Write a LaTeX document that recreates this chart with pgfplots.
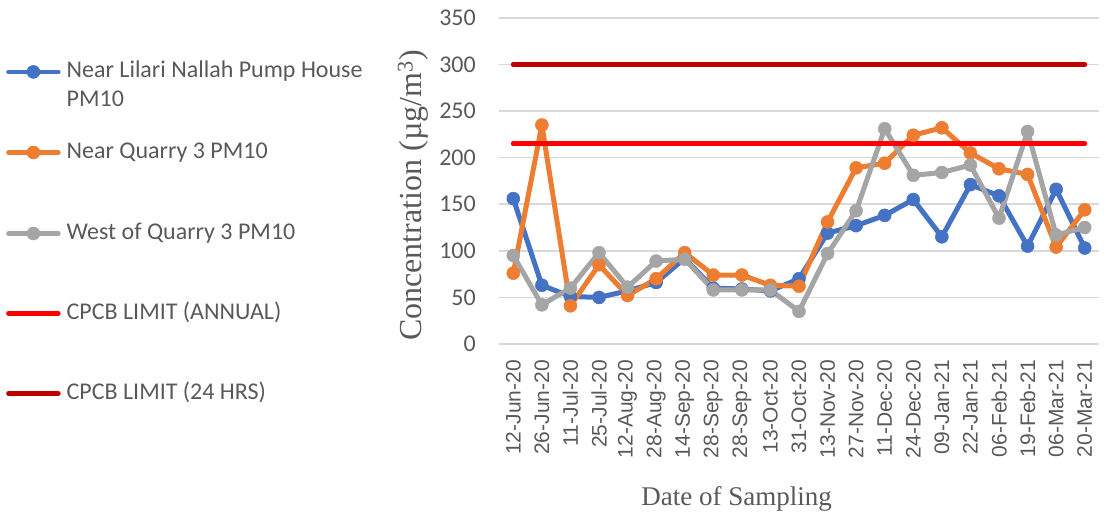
\documentclass[border=0pt]{standalone}
\usepackage{pgfplots}
\usepackage{pgfplotstable}
\pgfplotsset{compat=1.18}
\usepackage{fontspec}
\setmainfont{Liberation Serif}
\newfontfamily\carlito{Carlito}
\newfontfamily\arialf{Liberation Sans}
\definecolor{cblue}{HTML}{4472C4}
\definecolor{corange}{HTML}{ED7D31}
\definecolor{cgray}{HTML}{A5A5A5}
\definecolor{cred}{HTML}{FF0000}
\definecolor{cdred}{HTML}{C00000}
\definecolor{ctext}{HTML}{595959}
\definecolor{cgrid}{HTML}{D9D9D9}

\pgfplotstableread{
x b o g
0 156 76 95
1 63 235 42
2 51 41 60
3 50 85 98
4 57 52 61
5 66 70 89
6 92 98 91
7 60 74 58
8 59 74 58
9 57 63 58
10 70 62 35
11 119 131 97
12 127 189 143
13 138 194 231
14 155 224 181
15 115 232 184
16 171 205 192
17 159 188 135
18 105 182 228
19 166 104 117
20 103 144 125
}\data

\begin{document}
\begin{tikzpicture}
\useasboundingbox (0,0) rectangle (1108pt,515pt);
\begin{axis}[
  at={(499pt,171pt)}, anchor=south west,
  scale only axis, width=600pt, height=326.2pt,
  xmin=-0.5, xmax=20.5, ymin=0, ymax=350,
  ytick={0,50,...,350},
  xtick={0,...,20},
  xticklabels={12-Jun-20,26-Jun-20,11-Jul-20,25-Jul-20,12-Aug-20,28-Aug-20,14-Sep-20,28-Sep-20,28-Sep-20,13-Oct-20,31-Oct-20,13-Nov-20,27-Nov-20,11-Dec-20,24-Dec-20,09-Jan-21,22-Jan-21,06-Feb-21,19-Feb-21,06-Mar-21,20-Mar-21},
  axis line style={draw=none},
  major tick length=0pt,
  ymajorgrids, grid style={cgrid, line width=1.5pt},
  /pgf/number format/assume math mode=true,
  yticklabel style={font=\carlito\fontsize{24}{28}\selectfont, text=ctext, anchor=east, inner sep=0pt, xshift=-23pt},
  xticklabel style={font=\arialf\fontsize{21}{24}\selectfont, text=ctext, inner sep=0pt, yshift=-16pt, rotate=90, anchor=east},
  ylabel={Concentration (µg/m\textsuperscript{3})},
  ylabel style={at={(axis description cs:-0.143,0.455)}, anchor=center, font=\fontsize{32}{36}\selectfont, text=ctext},
  xlabel={Date of Sampling},
  xlabel style={at={(axis description cs:0.396,-0.494)}, anchor=base, font=\fontsize{27}{30}\selectfont, text=ctext},
  legend style={at={(axis description cs:-0.8217,0.8746)}, anchor=north west, draw=none, fill=none, inner sep=0pt, row sep=0pt, font=\carlito\fontsize{24}{29}\selectfont, text=ctext, nodes={inner sep=0pt, text depth=}},
  legend cell align=left,
  legend image code/.code={\draw[#1, mark repeat=2, mark phase=2, line width=4.5pt, line cap=round] plot coordinates {(2pt,0pt)(27pt,0pt)(52pt,0pt)};},
  /tikz/every odd column/.append style={column sep=6pt},
]
\addplot[cblue, line width=5pt, line join=round, mark=*, mark size=6.5pt, mark options={solid, fill=cblue, line width=0.5pt}] table[x=x, y=b] {\data};
\addlegendentry{\rule[-7pt]{0pt}{26pt}Near Lilari Nallah Pump House}
\addlegendimage{empty legend}
\addlegendentry{\rule[-10pt]{0pt}{32pt}PM10}
\addplot[corange, line width=5pt, line join=round, mark=*, mark size=6.5pt, mark options={solid, fill=corange, line width=0.5pt}] table[x=x, y=o] {\data};
\addlegendentry{\rule[-29.6pt]{0pt}{71.2pt}Near Quarry 3 PM10}
\addplot[cgray, line width=5pt, line join=round, mark=*, mark size=6.5pt, mark options={solid, fill=cgray, line width=0.5pt}] table[x=x, y=g] {\data};
\addlegendentry{\rule[-39.4pt]{0pt}{90.8pt}West of Quarry 3 PM10}
\addplot[cred, line width=5pt, line cap=round] coordinates {(0,215) (20,215)};
\addlegendentry{\rule[-28.6pt]{0pt}{69.2pt}CPCB LIMIT (ANNUAL)}
\addplot[cdred, line width=5pt, line cap=round] coordinates {(0,300) (20,300)};
\addlegendentry{\rule[-39.4pt]{0pt}{90.8pt}CPCB LIMIT (24 HRS)}
\end{axis}
\end{tikzpicture}
\end{document}
